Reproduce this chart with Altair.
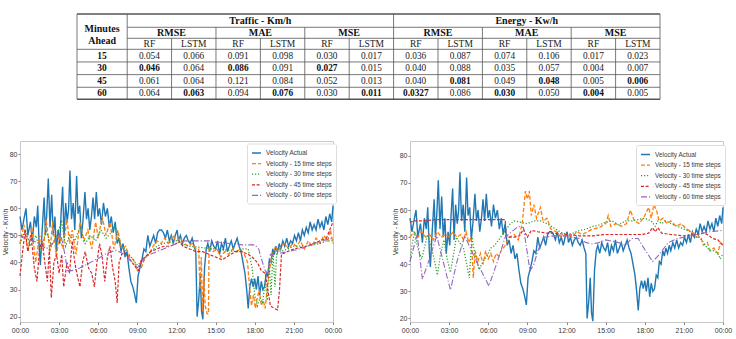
import altair as alt
import pandas as pd

# ---------------------------------------------------------------- series styling
SERIES = ["Velocity Actual", "Velocity - 15 time steps", "Velocity - 30 time steps",
          "Velocity - 45 time steps", "Velocity - 60 time steps"]
SERIES_COLORS = ["#1f77b4", "#ff7f0e", "#2ca02c", "#d62728", "#9467bd"]
SERIES_DASHES = [[1, 0], [4, 2], [1.2, 1.8], [3, 1.6], [6, 2, 1.2, 2]]
SERIES_WIDTHS = [1.4, 1.1, 1.1, 1.1, 1.1]

HOUR_TICKS = [0, 3, 6, 9, 12, 15, 18, 21, 24]
KMH_TICKS = [20, 30, 40, 50, 60, 70, 80]

# ---------------------------------------------------------------- observed velocity (both panels)
actual = [
    (0.00, 57), (0.15, 52), (0.30, 56), (0.46, 60), (0.60, 50), (0.80, 55), (0.95, 48), (1.10, 57),
    (1.25, 53), (1.36, 61), (1.48, 45), (1.56, 39), (1.70, 52), (1.85, 64), (1.95, 50), (2.05, 58),
    (2.17, 71), (2.30, 53), (2.43, 65), (2.55, 50), (2.68, 57), (2.78, 44), (2.92, 52), (3.05, 47),
    (3.15, 58), (3.27, 68), (3.38, 49), (3.50, 62), (3.62, 55), (3.73, 60), (3.83, 74), (3.95, 56),
    (4.08, 62), (4.20, 52), (4.34, 72), (4.45, 58), (4.58, 61), (4.70, 49), (4.82, 55), (4.98, 66),
    (5.10, 56), (5.22, 60), (5.35, 52), (5.48, 57), (5.60, 64), (5.72, 56), (5.85, 66), (5.98, 57),
    (6.10, 60), (6.25, 54), (6.40, 62), (6.55, 57), (6.70, 60), (6.85, 53), (7.00, 57), (7.15, 51),
    (7.30, 55), (7.45, 47), (7.60, 49), (7.75, 44), (7.90, 47), (8.05, 42), (8.20, 44), (8.35, 38),
    (8.50, 33), (8.65, 31), (8.80, 28), (8.92, 25), (9.05, 35), (9.20, 38), (9.35, 41), (9.50, 45),
    (9.65, 44), (9.80, 50), (9.95, 46), (10.10, 48), (10.25, 50), (10.40, 47), (10.55, 51),
    (10.70, 52), (10.85, 52), (11.00, 51), (11.15, 49), (11.30, 52), (11.45, 48), (11.60, 50),
    (11.75, 47), (11.90, 50), (12.05, 52), (12.15, 48), (12.30, 50), (12.45, 47), (12.60, 49),
    (12.75, 50), (12.90, 48), (13.05, 47), (13.20, 49), (13.35, 46), (13.48, 44), (13.58, 20),
    (13.70, 26), (13.82, 35), (13.92, 22), (14.02, 19), (14.15, 38), (14.28, 45), (14.40, 47),
    (14.55, 44), (14.70, 48), (14.85, 46), (15.00, 45), (15.15, 48), (15.30, 43), (15.45, 47),
    (15.60, 45), (15.75, 49), (15.90, 44), (16.05, 46), (16.20, 48), (16.35, 45), (16.50, 47),
    (16.65, 49), (16.80, 46), (16.95, 44), (17.10, 40), (17.25, 36), (17.38, 30), (17.50, 23),
    (17.62, 31), (17.75, 34), (17.88, 31), (18.00, 34), (18.12, 30), (18.25, 35), (18.38, 28),
    (18.50, 33), (18.62, 30), (18.75, 31), (18.88, 36), (19.00, 35), (19.12, 41), (19.25, 40),
    (19.38, 45), (19.50, 43), (19.62, 46), (19.75, 44), (19.88, 47), (20.00, 45), (20.15, 48),
    (20.30, 46), (20.45, 49), (20.60, 46), (20.75, 48), (20.90, 47), (21.05, 50), (21.20, 48),
    (21.35, 51), (21.50, 48), (21.65, 52), (21.80, 50), (21.95, 53), (22.10, 51), (22.25, 55),
    (22.40, 52), (22.55, 54), (22.70, 52), (22.85, 56), (23.00, 53), (23.15, 55), (23.30, 52),
    (23.45, 57), (23.60, 54), (23.75, 58), (23.90, 55), (24.00, 61),
]

# ---------------------------------------------------------------- left panel forecasts
left_15 = [
    (0.0, 47), (0.3, 54), (0.6, 44), (0.9, 53), (1.2, 40), (1.5, 50), (1.8, 45), (2.0, 56), (2.3, 44),
    (2.5, 55), (2.8, 42), (3.0, 50), (3.3, 45), (3.6, 56), (3.8, 47), (4.0, 52), (4.3, 43), (4.6, 55),
    (4.9, 48), (5.2, 52), (5.5, 45), (5.8, 55), (6.0, 49), (6.3, 57), (6.6, 50), (6.9, 55), (7.2, 45),
    (7.5, 52), (7.8, 45), (8.1, 46), (8.4, 42), (8.7, 41), (9.0, 37), (9.3, 38), (9.6, 42), (9.9, 43),
    (10.2, 46), (10.5, 48), (10.8, 47), (11.1, 49), (11.4, 47), (11.7, 50), (12.0, 48), (12.3, 49),
    (12.6, 47), (12.9, 46), (13.2, 47), (13.5, 45), (13.7, 45), (13.8, 30), (13.9, 42), (14.0, 22),
    (14.1, 35), (14.2, 24), (14.35, 21), (14.45, 21), (14.5, 46), (14.8, 44), (15.1, 45), (15.4, 42),
    (15.7, 44), (16.0, 43), (16.3, 45), (16.6, 44), (16.9, 45), (17.2, 43), (17.45, 40), (17.6, 31),
    (17.75, 24), (17.9, 28), (18.05, 23), (18.2, 27), (18.35, 30), (18.5, 24), (18.65, 26), (18.8, 23),
    (18.95, 30), (19.1, 36), (19.25, 41), (19.4, 44), (19.6, 46), (19.8, 44), (20.0, 46), (20.3, 47),
    (20.6, 45), (20.9, 47), (21.2, 46), (21.5, 48), (21.8, 45), (22.1, 48), (22.4, 46), (22.7, 49),
    (23.0, 47), (23.3, 50), (23.6, 48), (23.8, 52), (24.0, 47),
]
left_30 = [
    (0.0, 47), (0.4, 52), (0.8, 46), (1.2, 50), (1.6, 44), (2.0, 52), (2.4, 46), (2.8, 50), (3.2, 55),
    (3.5, 46), (3.8, 50), (4.2, 48), (4.6, 53), (5.0, 47), (5.4, 50), (5.8, 48), (6.2, 52), (6.6, 49),
    (7.0, 51), (7.3, 54), (7.6, 48), (8.0, 45), (8.5, 42), (9.0, 39), (9.5, 41), (10.0, 44),
    (10.5, 46), (11.0, 47), (11.5, 47.5), (12.0, 48), (12.3, 47), (13.0, 46), (14.0, 45.5),
    (15.0, 45), (16.0, 44.5), (16.5, 44), (17.0, 45), (17.5, 45), (17.8, 38), (18.0, 28), (18.2, 24),
    (18.4, 27), (18.6, 25), (18.8, 33), (18.95, 26), (19.1, 40), (19.25, 28), (19.4, 44), (19.55, 31),
    (19.7, 45), (20.0, 44), (20.5, 45), (21.0, 46), (21.5, 46), (22.0, 46), (22.5, 46.5), (23.0, 47),
    (23.5, 48), (24.0, 48),
]
left_45 = [
    (0.0, 35), (0.2, 44), (0.4, 52), (0.6, 44), (0.85, 50), (1.1, 38), (1.3, 33), (1.5, 45),
    (1.7, 48), (1.9, 40), (2.1, 33), (2.25, 45), (2.4, 27), (2.6, 40), (2.8, 43), (3.0, 36),
    (3.2, 43), (3.35, 31), (3.6, 40), (3.8, 36), (4.0, 48), (4.2, 40), (4.4, 35), (4.6, 31),
    (4.8, 40), (5.0, 44), (5.25, 38), (5.5, 36), (5.7, 31), (5.9, 40), (6.1, 47), (6.3, 42),
    (6.5, 33), (6.7, 42), (6.9, 46), (7.1, 38), (7.3, 33), (7.45, 25), (7.6, 40), (7.8, 43),
    (8.0, 44), (8.3, 42), (8.6, 40), (8.9, 38), (9.1, 37), (9.3, 41), (9.6, 42), (10.0, 44),
    (10.5, 45), (11.0, 46), (11.5, 46), (12.0, 47), (12.2, 48), (12.5, 46), (13.0, 45), (13.5, 44),
    (14.0, 44), (14.5, 43), (15.0, 42), (15.5, 41), (16.0, 42.5), (16.5, 44), (17.0, 44), (17.5, 43),
    (17.8, 42), (18.2, 40), (18.5, 37), (18.8, 36), (19.0, 30), (19.2, 24), (19.5, 23), (19.75, 22.5),
    (19.9, 30), (20.05, 43), (20.5, 44), (21.0, 45), (21.5, 45.5), (22.0, 46), (22.5, 47), (23.0, 48),
    (23.5, 49), (23.75, 52), (24.0, 55),
]
left_60 = [
    (0.0, 50), (0.5, 49), (1.0, 48), (1.5, 47), (2.0, 45), (2.5, 47), (2.8, 49), (3.1, 51), (3.4, 44),
    (3.65, 37), (4.0, 37), (4.4, 37.5), (4.8, 38.5), (5.2, 39.5), (5.6, 40.5), (6.0, 41.5), (6.5, 43),
    (7.0, 44), (7.4, 44.5), (7.8, 43.5), (8.2, 42), (8.6, 40), (9.0, 38), (9.3, 40), (9.6, 42),
    (10.0, 43), (10.5, 44), (11.0, 45), (11.5, 46), (12.0, 47), (12.3, 47.5), (12.7, 48), (13.3, 48),
    (14.0, 48), (14.5, 48), (15.0, 47.5), (15.5, 47.5), (16.0, 47), (16.5, 47), (17.0, 46.5),
    (17.5, 46.5), (18.0, 46.5), (18.3, 45), (18.6, 40), (18.8, 37), (19.0, 36), (19.1, 40),
    (19.2, 43), (19.5, 43), (20.0, 43.5), (20.5, 44), (21.0, 44.5), (21.5, 45), (22.0, 46),
    (22.5, 47), (23.0, 47.5), (23.5, 48.5), (24.0, 49),
]

# ---------------------------------------------------------------- right panel forecasts
right_15 = [
    (0.0, 50), (0.3, 52), (0.6, 50), (0.9, 52), (1.2, 50), (1.5, 51), (1.8, 49), (2.1, 52), (2.4, 50),
    (2.7, 51), (3.0, 50), (3.3, 52), (3.6, 50), (3.9, 51), (4.1, 49), (4.3, 52), (4.5, 48), (4.7, 50),
    (4.85, 35), (5.0, 45), (5.2, 41), (5.4, 44), (5.6, 40), (5.8, 45), (6.0, 42), (6.2, 44), (6.4, 41),
    (6.6, 44), (6.8, 43), (7.0, 45), (7.3, 47), (7.6, 50), (8.0, 51), (8.3, 49), (8.6, 55), (8.85, 67),
    (9.0, 64), (9.15, 67), (9.3, 58), (9.5, 62), (9.7, 57), (10.0, 61), (10.2, 56), (10.5, 57),
    (10.8, 53), (11.2, 52), (11.6, 50), (12.0, 51), (12.4, 50), (12.8, 52), (13.2, 51), (13.6, 52),
    (14.0, 53), (14.5, 53.5), (15.0, 55), (15.2, 58), (15.4, 54), (15.8, 55), (16.2, 54), (16.6, 55),
    (16.9, 60), (17.2, 56), (17.6, 55), (18.0, 58), (18.3, 61), (18.5, 57), (18.7, 62), (18.9, 60),
    (19.1, 56), (19.4, 57), (19.7, 55), (20.0, 56), (20.4, 54), (20.8, 55), (21.2, 53), (21.6, 52),
    (22.0, 50), (22.3, 50), (22.5, 47), (22.8, 48), (23.0, 45), (23.3, 46), (23.6, 44), (23.8, 48),
    (24.0, 47),
]
right_30 = [
    (0.0, 41), (0.15, 47), (0.35, 52), (0.6, 46), (0.9, 42), (1.1, 46), (1.35, 51), (1.6, 47),
    (1.85, 42), (2.1, 36), (2.35, 44), (2.6, 49), (2.85, 42), (3.1, 37), (3.35, 44), (3.55, 50),
    (3.8, 48), (4.1, 46), (4.35, 40), (4.55, 35), (4.75, 50), (5.0, 43), (5.3, 38), (5.6, 41),
    (5.9, 43), (6.2, 46), (6.5, 47), (6.8, 49), (7.1, 51), (7.4, 53), (7.7, 55), (8.0, 56),
    (8.5, 55.5), (9.0, 55), (9.5, 56), (10.0, 56), (10.5, 55), (11.0, 53.5), (11.5, 52), (12.0, 51),
    (12.5, 51.5), (13.0, 52.5), (13.5, 53), (14.0, 54), (14.5, 54.5), (15.0, 55.5), (15.5, 56),
    (16.0, 54.5), (16.5, 56), (17.0, 56), (17.5, 56.5), (18.0, 57), (18.5, 56), (18.8, 54), (19.0, 56),
    (19.3, 55), (19.6, 56), (20.0, 55), (20.5, 54), (21.0, 53), (21.5, 52), (21.8, 50), (22.2, 50),
    (22.5, 48), (22.8, 46), (23.0, 45), (23.3, 45), (23.6, 44), (23.8, 42), (24.0, 44),
]
right_45 = [
    (0.0, 55.5), (0.3, 56), (1.0, 56), (2.0, 56.5), (3.0, 56.5), (4.0, 56.5), (5.0, 56.5), (6.0, 56.5),
    (7.0, 56.5), (7.3, 56.5), (7.35, 50.5), (7.6, 50), (8.0, 50), (8.4, 50.5), (8.7, 53), (9.0, 50),
    (9.3, 52.5), (9.8, 52), (10.5, 51.5), (11.0, 51.5), (12.0, 51), (13.0, 50.5), (14.0, 50.5),
    (15.0, 51), (16.0, 51), (17.0, 51), (17.8, 51), (18.3, 51.5), (18.6, 53.5), (18.8, 52),
    (19.0, 53.5), (19.3, 51.5), (20.0, 51), (21.0, 50.5), (22.0, 51), (22.5, 51.5), (22.8, 51),
    (23.2, 49.5), (23.6, 49), (24.0, 47),
]
right_60 = [
    (0.0, 41), (0.55, 51), (0.95, 34.5), (1.5, 42), (2.05, 50.5), (2.6, 40), (3.1, 30.5), (3.6, 41),
    (4.2, 50.5), (5.0, 42), (6.05, 32), (6.7, 41), (7.3, 50), (7.8, 52), (8.3, 54), (8.7, 53.5),
    (9.0, 44), (9.2, 37.5), (9.5, 40), (9.8, 45), (10.3, 50), (11.0, 50.5), (12.0, 50.5), (12.5, 50),
    (13.0, 49.5), (13.5, 48), (14.0, 47.5), (14.5, 48), (15.0, 49), (15.5, 48.5), (16.0, 48),
    (16.5, 47), (17.0, 49.5), (17.5, 49.5), (17.8, 47), (18.2, 44), (18.6, 41), (19.0, 43),
    (19.4, 45.5), (19.8, 48), (20.5, 49.5), (21.0, 50), (22.0, 51), (23.0, 52), (24.0, 52.5),
]

# ---------------------------------------------------------------- error table
MINUTES = ["15", "30", "45", "60"]
TRAFFIC_RMSE_RF = ["0.054", "0.046", "0.061", "0.064"]
TRAFFIC_RMSE_LSTM = ["0.066", "0.064", "0.064", "0.063"]
TRAFFIC_MAE_RF = ["0.091", "0.086", "0.121", "0.094"]
TRAFFIC_MAE_LSTM = ["0.098", "0.091", "0.084", "0.076"]
TRAFFIC_MSE_RF = ["0.030", "0.027", "0.052", "0.030"]
TRAFFIC_MSE_LSTM = ["0.017", "0.015", "0.013", "0.011"]
ENERGY_RMSE_RF = ["0.036", "0.040", "0.040", "0.0327"]
ENERGY_RMSE_LSTM = ["0.087", "0.088", "0.081", "0.086"]
ENERGY_MAE_RF = ["0.074", "0.035", "0.049", "0.030"]
ENERGY_MAE_LSTM = ["0.106", "0.057", "0.048", "0.050"]
ENERGY_MSE_RF = ["0.017", "0.004", "0.005", "0.004"]
ENERGY_MSE_LSTM = ["0.023", "0.007", "0.006", "0.005"]
VALUE_COLUMNS = [TRAFFIC_RMSE_RF, TRAFFIC_RMSE_LSTM, TRAFFIC_MAE_RF, TRAFFIC_MAE_LSTM,
                 TRAFFIC_MSE_RF, TRAFFIC_MSE_LSTM, ENERGY_RMSE_RF, ENERGY_RMSE_LSTM,
                 ENERGY_MAE_RF, ENERGY_MAE_LSTM, ENERGY_MSE_RF, ENERGY_MSE_LSTM]
# best score per horizon (indices into VALUE_COLUMNS), printed in bold
BEST = {"30": [0, 2, 4], "45": [7, 9, 11], "60": [1, 3, 5, 6, 8, 10]}
GROUPS = ["Traffic - Km/h", "Energy - Kw/h"]
METRICS = ["RMSE", "MAE", "MSE"]
MODELS = ["RF", "LSTM"]

# ---------------------------------------------------------------- layout
PANEL_W, PANEL_H = 313, 181
PANEL_GAP = 47
TABLE_H = 100
TABLE_GAP = 40
LEFT_PLOT_X = 19          # the table is placed relative to the left panel's plot origin
TABLE_X = (76 - LEFT_PLOT_X, 659 - LEFT_PLOT_X)
TABLE_Y = (14, 99.3)
LEFT_Y_DOMAIN = [18.0, 84.9]
RIGHT_Y_DOMAIN = [18.7, 85.5]

AXIS_FONT = "Liberation Sans"
TABLE_FONT = "Liberation Serif"
SPINE = "#c8c8c8"
TEXT = "#3a3a3a"


def series_frame(actual_pts, forecasts):
    rows = [{"hour": h, "kmh": v, "series": SERIES[0]} for h, v in actual_pts]
    for name, pts in zip(SERIES[1:], forecasts):
        rows += [{"hour": h, "kmh": v, "series": name} for h, v in pts]
    return pd.DataFrame(rows)


def panel(df, y_domain, legend_xy):
    x_scale = alt.Scale(domain=[0, 24], nice=False, zero=False)
    y_scale = alt.Scale(domain=y_domain, nice=False, zero=False)
    legend = alt.Legend(
        title=None, orient="none", legendX=legend_xy[0], legendY=legend_xy[1],
        symbolType="stroke", symbolSize=81, symbolStrokeWidth=1.3,
        labelFont=AXIS_FONT, labelFontSize=6.4, labelColor=TEXT, labelOffset=4, labelLimit=200,
        padding=4, rowPadding=1.6, fillColor="white", strokeColor="#dddddd", cornerRadius=2,
    )
    x_axis = alt.Axis(
        values=HOUR_TICKS, title=None,
        labelExpr="(datum.value % 24 < 10 ? '0' : '') + (datum.value % 24) + ':00'",
        labelFont=AXIS_FONT, labelFontSize=7, labelColor=TEXT, labelPadding=2,
        tickColor="#888888", tickSize=2.5, domain=False, grid=False, labelFlush=False,
    )
    y_axis = alt.Axis(
        values=KMH_TICKS, title="Velocity - Km\\h",
        titleFont=AXIS_FONT, titleFontSize=7, titleFontWeight="normal", titleColor=TEXT,
        titlePadding=1, labelFont=AXIS_FONT, labelFontSize=7, labelColor=TEXT, labelPadding=1,
        tickColor="#888888", tickSize=2, domain=False, grid=False,
    )
    enc = dict(
        x=alt.X("hour:Q", scale=x_scale, axis=x_axis),
        y=alt.Y("kmh:Q", scale=y_scale, axis=y_axis),
        color=alt.Color("series:N", scale=alt.Scale(domain=SERIES, range=SERIES_COLORS), legend=legend),
        strokeDash=alt.StrokeDash("series:N", scale=alt.Scale(domain=SERIES, range=SERIES_DASHES),
                                  legend=legend),
        strokeWidth=alt.StrokeWidth("series:N", scale=alt.Scale(domain=SERIES, range=SERIES_WIDTHS),
                                    legend=None),
        order=alt.Order("hour:Q"),
    )
    base = alt.Chart(df)
    observed = base.transform_filter(alt.datum.series == SERIES[0]).mark_line(strokeCap="butt").encode(**enc)
    predicted = base.transform_filter(alt.datum.series != SERIES[0]).mark_line(strokeCap="butt").encode(**enc)
    return alt.layer(observed, predicted).properties(width=PANEL_W, height=PANEL_H)


left_panel = panel(series_frame(actual, [left_15, left_30, left_45, left_60]), LEFT_Y_DOMAIN, (227, 2.5))
right_panel = panel(series_frame(actual, [right_15, right_30, right_45, right_60]), RIGHT_Y_DOMAIN, (226, 4))

# ---------------------------------------------------------------- table geometry (in cell units)
MIN_COL_W = 1.13
ROW_HEIGHTS = [1.05, 0.87, 0.87, 1.0, 1.0, 1.0, 0.95]
col_edges = [0.0] + [MIN_COL_W + i for i in range(13)]
row_edges = [0.0]
for h in ROW_HEIGHTS:
    row_edges.append(row_edges[-1] + h)
table_w, table_h = col_edges[-1], row_edges[-1]
mid_col = [(col_edges[i] + col_edges[i + 1]) / 2 for i in range(13)]
mid_row = [(row_edges[i] + row_edges[i + 1]) / 2 for i in range(7)]
split = col_edges[7]

hlines = [{"x": 0, "x2": table_w, "y": row_edges[0], "w": 1.4},
          {"x": col_edges[1], "x2": table_w, "y": row_edges[1], "w": 0.8},
          {"x": col_edges[1], "x2": table_w, "y": row_edges[2], "w": 0.8}]
hlines += [{"x": 0, "x2": table_w, "y": row_edges[r], "w": 0.8} for r in range(3, 7)]
hlines += [{"x": 0, "x2": table_w, "y": row_edges[7], "w": 1.4}]
vlines = [{"x": c, "y": 0, "y2": table_h, "w": 0.8} for c in (0, col_edges[1], split, table_w)]
vlines += [{"x": col_edges[c], "y": row_edges[1], "y2": table_h, "w": 0.8} for c in (3, 5, 9, 11)]
vlines += [{"x": col_edges[c], "y": row_edges[2], "y2": table_h, "w": 0.8} for c in (2, 4, 6, 8, 10, 12)]

cells = []
for g, name in enumerate(GROUPS):
    cells.append({"x": (col_edges[1 + 6 * g] + col_edges[7 + 6 * g]) / 2, "y": mid_row[0],
                  "text": name, "bold": True, "fs": 10})
    for m, metric in enumerate(METRICS):
        c = 1 + 6 * g + 2 * m
        cells.append({"x": col_edges[c + 1], "y": mid_row[1], "text": metric, "bold": True, "fs": 10})
        for k, model in enumerate(MODELS):
            cells.append({"x": mid_col[c + k], "y": mid_row[2], "text": model, "bold": False, "fs": 9.5})
for r, minute in enumerate(MINUTES):
    cells.append({"x": mid_col[0], "y": mid_row[3 + r], "text": minute, "bold": True, "fs": 9.5})
    for c, column in enumerate(VALUE_COLUMNS):
        cells.append({"x": mid_col[c + 1], "y": mid_row[3 + r], "text": column[r],
                      "bold": c in BEST.get(minute, []), "fs": 9.3})

tx = alt.Scale(domain=[0, table_w], range=list(TABLE_X), nice=False, zero=False)
ty = alt.Scale(domain=[0, table_h], range=list(TABLE_Y), nice=False, zero=False)

h_rules = alt.Chart(pd.DataFrame(hlines)).mark_rule(color="#555555").encode(
    x=alt.X("x:Q", scale=tx, axis=None), x2="x2:Q",
    y=alt.Y("y:Q", scale=ty, axis=None),
    strokeWidth=alt.StrokeWidth("w:Q", scale=None),
)
v_rules = alt.Chart(pd.DataFrame(vlines)).mark_rule(color="#555555").encode(
    x=alt.X("x:Q", scale=tx, axis=None),
    y=alt.Y("y:Q", scale=ty, axis=None), y2="y2:Q",
    strokeWidth=alt.StrokeWidth("w:Q", scale=None),
)
cell_df = pd.DataFrame(cells)
text_enc = dict(
    x=alt.X("x:Q", scale=tx, axis=None),
    y=alt.Y("y:Q", scale=ty, axis=None),
    text="text:N",
    size=alt.Size("fs:Q", scale=None, legend=None),
)
plain_text = alt.Chart(cell_df).transform_filter(~alt.datum.bold).mark_text(
    font=TABLE_FONT, color="#1a1a1a", baseline="middle", align="center").encode(**text_enc)
bold_text = alt.Chart(cell_df).transform_filter(alt.datum.bold).mark_text(
    font=TABLE_FONT, fontWeight="bold", color="#111111", baseline="middle", align="center").encode(**text_enc)
corner = alt.Chart(pd.DataFrame([{"x": mid_col[0], "y": (row_edges[0] + row_edges[3]) / 2,
                                  "text": "Minutes\nAhead"}])).mark_text(
    font=TABLE_FONT, fontWeight="bold", fontSize=10, color="#111111", baseline="middle",
    align="center", lineBreak="\n", lineHeight=11.5, dy=-2.5).encode(
    x=alt.X("x:Q", scale=tx, axis=None), y=alt.Y("y:Q", scale=ty, axis=None), text="text:N")

table = alt.layer(h_rules, v_rules, plain_text, bold_text, corner).properties(
    width=TABLE_X[1] + 4, height=TABLE_H, view=alt.ViewBackground(stroke=None))

panels = alt.hconcat(left_panel, right_panel, spacing=PANEL_GAP).resolve_scale(
    color="independent", strokeDash="independent", strokeWidth="independent")

chart = (
    alt.vconcat(table, panels, spacing=TABLE_GAP)
    .properties(padding={"left": 0, "top": 0, "right": 0, "bottom": 0}, background="white")
    .configure_view(stroke=SPINE, strokeWidth=1)
)

chart.save("out.html", embed_options={"renderer": "svg", "actions": False})
